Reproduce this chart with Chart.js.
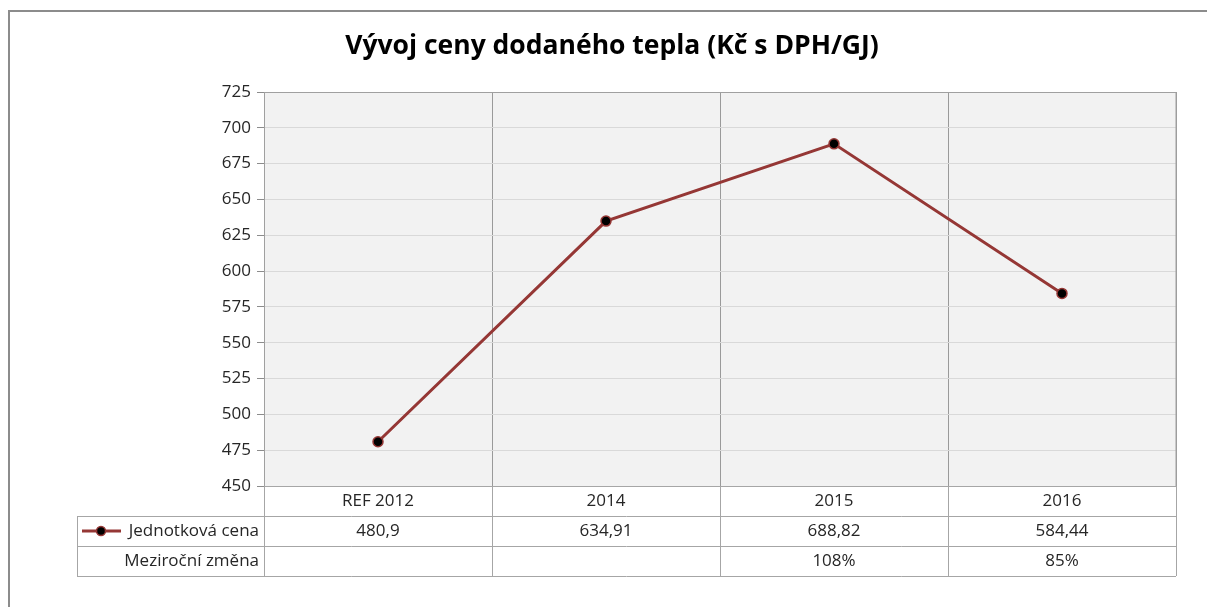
<!DOCTYPE html>
<html>
<head>
<meta charset="utf-8">
<script src="https://cdn.jsdelivr.net/npm/chart.js@4/dist/chart.umd.min.js"></script>
<style>
html,body{margin:0;padding:0;background:#fff;}
#wrap{width:1207px;height:607px;position:relative;}
</style>
</head>
<body>
<div id="wrap"><canvas id="c" width="1207" height="607"></canvas></div>
<script>
const titleText = 'Vývoj ceny dodaného tepla (Kč s DPH/GJ)';
const categories = ['REF 2012', '2014', '2015', '2016'];
const seriesName = 'Jednotková cena';
const priceValues = [480.9, 634.91, 688.82, 584.44];
const priceLabels = ['480,9', '634,91', '688,82', '584,44'];
const changeName = 'Meziroční změna';
const changeLabels = ['', '', '108%', '85%'];
const yMin = 450, yMax = 725, yStep = 25;

const FONT = "'Open Sans', sans-serif";
const TEXT = '#262626';
const LINE = '#953735';

const deco = {
  id: 'deco',
  beforeDraw(chart) {
    const {ctx, chartArea: a} = chart;
    ctx.save();
    ctx.fillStyle = '#f2f2f2';
    ctx.fillRect(a.left, a.top, a.right - a.left, a.bottom - a.top);
    ctx.restore();
  },
  afterDraw(chart) {
    const {ctx, chartArea: a} = chart;
    const xs = chart.scales.x;
    ctx.save();
    // outer frame
    ctx.strokeStyle = '#8c8c8c';
    ctx.lineWidth = 2;
    ctx.beginPath();
    ctx.moveTo(9, 607); ctx.lineTo(9, 11); ctx.lineTo(1207, 11);
    ctx.stroke();
    // title
    ctx.fillStyle = '#000';
    ctx.font = "bold 26.5px " + FONT;
    ctx.textAlign = 'center';
    ctx.textBaseline = 'middle';
    ctx.fillText(titleText, 612, 46);

    // plot border
    ctx.strokeStyle = '#a0a0a0';
    ctx.lineWidth = 1;
    ctx.strokeRect(Math.round(a.left) + 0.5, Math.round(a.top) + 0.5, Math.round(a.right - a.left) - 0.5, Math.round(a.bottom - a.top));

    // data table
    const rowH = 30;
    const y0 = Math.round(a.bottom);
    const y1 = y0 + rowH, y2 = y1 + rowH, y3 = y2 + rowH;
    const tableLeft = 77;
    const bounds = [];
    const n = categories.length;
    const w = (a.right - a.left) / n;
    for (let i = 0; i <= n; i++) bounds.push(Math.round(a.left + i * w));
    ctx.strokeStyle = '#a6a6a6';
    ctx.lineWidth = 1;
    ctx.beginPath();
    ctx.moveTo(bounds[0], y0 + 0.5); ctx.lineTo(bounds[n], y0 + 0.5);
    ctx.moveTo(tableLeft, y1 + 0.5); ctx.lineTo(bounds[n], y1 + 0.5);
    ctx.moveTo(tableLeft, y2 + 0.5); ctx.lineTo(bounds[n], y2 + 0.5);
    ctx.moveTo(tableLeft, y3 + 0.5); ctx.lineTo(bounds[n], y3 + 0.5);
    ctx.moveTo(tableLeft + 0.5, y1); ctx.lineTo(tableLeft + 0.5, y3);
    for (let i = 0; i <= n; i++) {
      ctx.moveTo(bounds[i] + 0.5, y0); ctx.lineTo(bounds[i] + 0.5, y3);
    }
    ctx.stroke();

    ctx.fillStyle = TEXT;
    ctx.font = "17px " + FONT;
    ctx.textAlign = 'center';
    ctx.textBaseline = 'middle';
    for (let i = 0; i < n; i++) {
      const cx = xs.getPixelForValue(i);
      ctx.fillText(categories[i], cx, y0 + rowH / 2);
      ctx.fillText(priceLabels[i], cx, y1 + rowH / 2);
      ctx.fillText(changeLabels[i], cx, y2 + rowH / 2);
    }
    ctx.textAlign = 'right';
    ctx.fillText(seriesName, bounds[0] - 5, y1 + rowH / 2);
    ctx.fillText(changeName, bounds[0] - 5, y2 + rowH / 2);

    // legend key
    const ky = y1 + rowH / 2;
    ctx.strokeStyle = LINE;
    ctx.lineWidth = 3;
    ctx.beginPath();
    ctx.moveTo(82, ky); ctx.lineTo(121, ky);
    ctx.stroke();
    ctx.fillStyle = '#000';
    ctx.lineWidth = 1.5;
    ctx.beginPath();
    ctx.arc(101, ky, 4.5, 0, Math.PI * 2);
    ctx.fill();
    ctx.stroke();
    ctx.restore();
  }
};

new Chart(document.getElementById('c'), {
  type: 'line',
  data: {
    labels: categories,
    datasets: [{
      label: seriesName,
      data: priceValues,
      borderColor: LINE,
      borderWidth: 3,
      pointRadius: 5,
      pointBackgroundColor: '#000',
      pointBorderColor: LINE,
      pointBorderWidth: 1.5,
      tension: 0
    }]
  },
  options: {
    responsive: false,
    animation: false,
    events: [],
    layout: {padding: {left: 0, top: 92, right: 31, bottom: 121}},
    plugins: {legend: {display: false}, title: {display: false}, tooltip: {enabled: false}},
    scales: {
      x: {
        offset: true,
        grid: {offset: true, color: '#9a9a9a', drawTicks: false},
        border: {display: false},
        ticks: {display: false},
        afterFit(s) { s.height = 0; }
      },
      y: {
        min: yMin, max: yMax,
        grid: {color: '#d9d9d9', tickColor: '#8c8c8c', tickLength: 7, drawTicks: true},
        border: {display: false},
        ticks: {stepSize: yStep, color: TEXT, font: {family: FONT, size: 17}, padding: 6},
        afterFit(s) { s.width = 264; }
      }
    }
  },
  plugins: [deco]
});
</script>
</body>
</html>
